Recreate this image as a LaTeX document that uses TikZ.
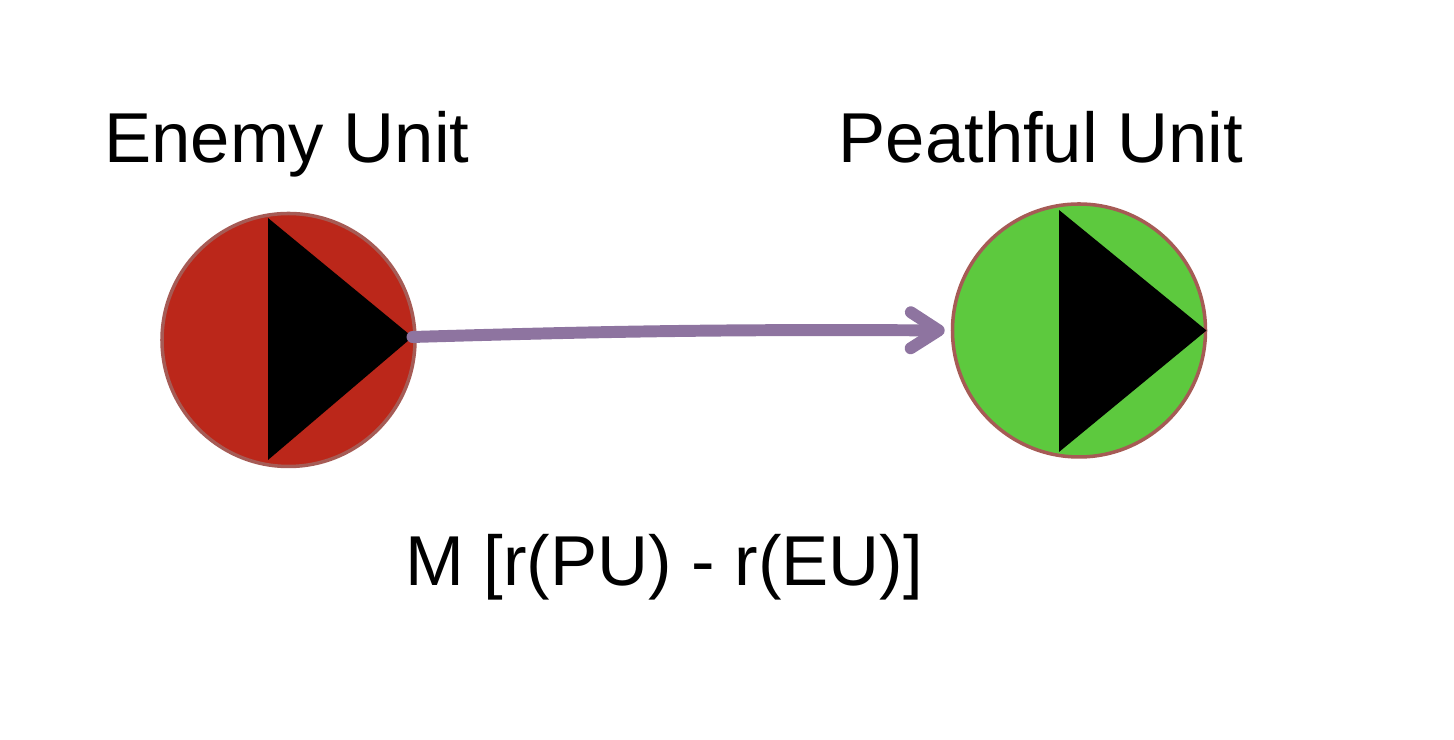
\documentclass[tikz,border=0pt]{standalone}
\usepackage{fontspec}
\setmainfont{Liberation Sans}
\usetikzlibrary{arrows.meta}
\definecolor{unitred}{HTML}{BB271A}
\definecolor{unitgreen}{HTML}{5DC93E}
\definecolor{unitrim}{HTML}{A65B55}
\definecolor{moveline}{HTML}{8E74A0}
\begin{document}
\begin{tikzpicture}[unit/.style={circle,draw=unitrim,line width=1pt,minimum size=2.53cm,inner sep=0pt},
	label/.style={anchor=base,font=\fontsize{20.1}{24}\selectfont}]
	\useasboundingbox (0,0) rectangle (14.54,-7.40);
	\node[unit,fill=unitred] (eu) at (2.885,-3.40) {};
	\node[unit,fill=unitgreen] (pu) at (10.79,-3.305) {};
	% facing triangles
	\fill ([shift={(-.205,1.22)}]eu.center) -- ([shift={(-.205,-1.20)}]eu.center) -- ([shift={(1.24,.03)}]eu.center) coordinate (eutip) -- cycle;
	\fill ([shift={(-.20,1.205)}]pu.center) -- ([shift={(-.20,-1.215)}]pu.center) -- ([shift={(1.275,0)}]pu.center) -- cycle;
	\draw[moveline,line width=3.4pt,line cap=round,shorten >=.6mm,-{Straight Barb[length=2.8mm,width=3.6mm,round]}] (eutip) to[bend left=1] (pu.west);
	\node[label] (eulabel) at (2.87,-1.63) {Enemy Unit};
	\node[label] (pulabel) at (10.41,-1.63) {Peathful Unit};
	\node[label] (formula) at (6.64,-5.86) {M [r(PU) - r(EU)]};
\end{tikzpicture}
\end{document}
